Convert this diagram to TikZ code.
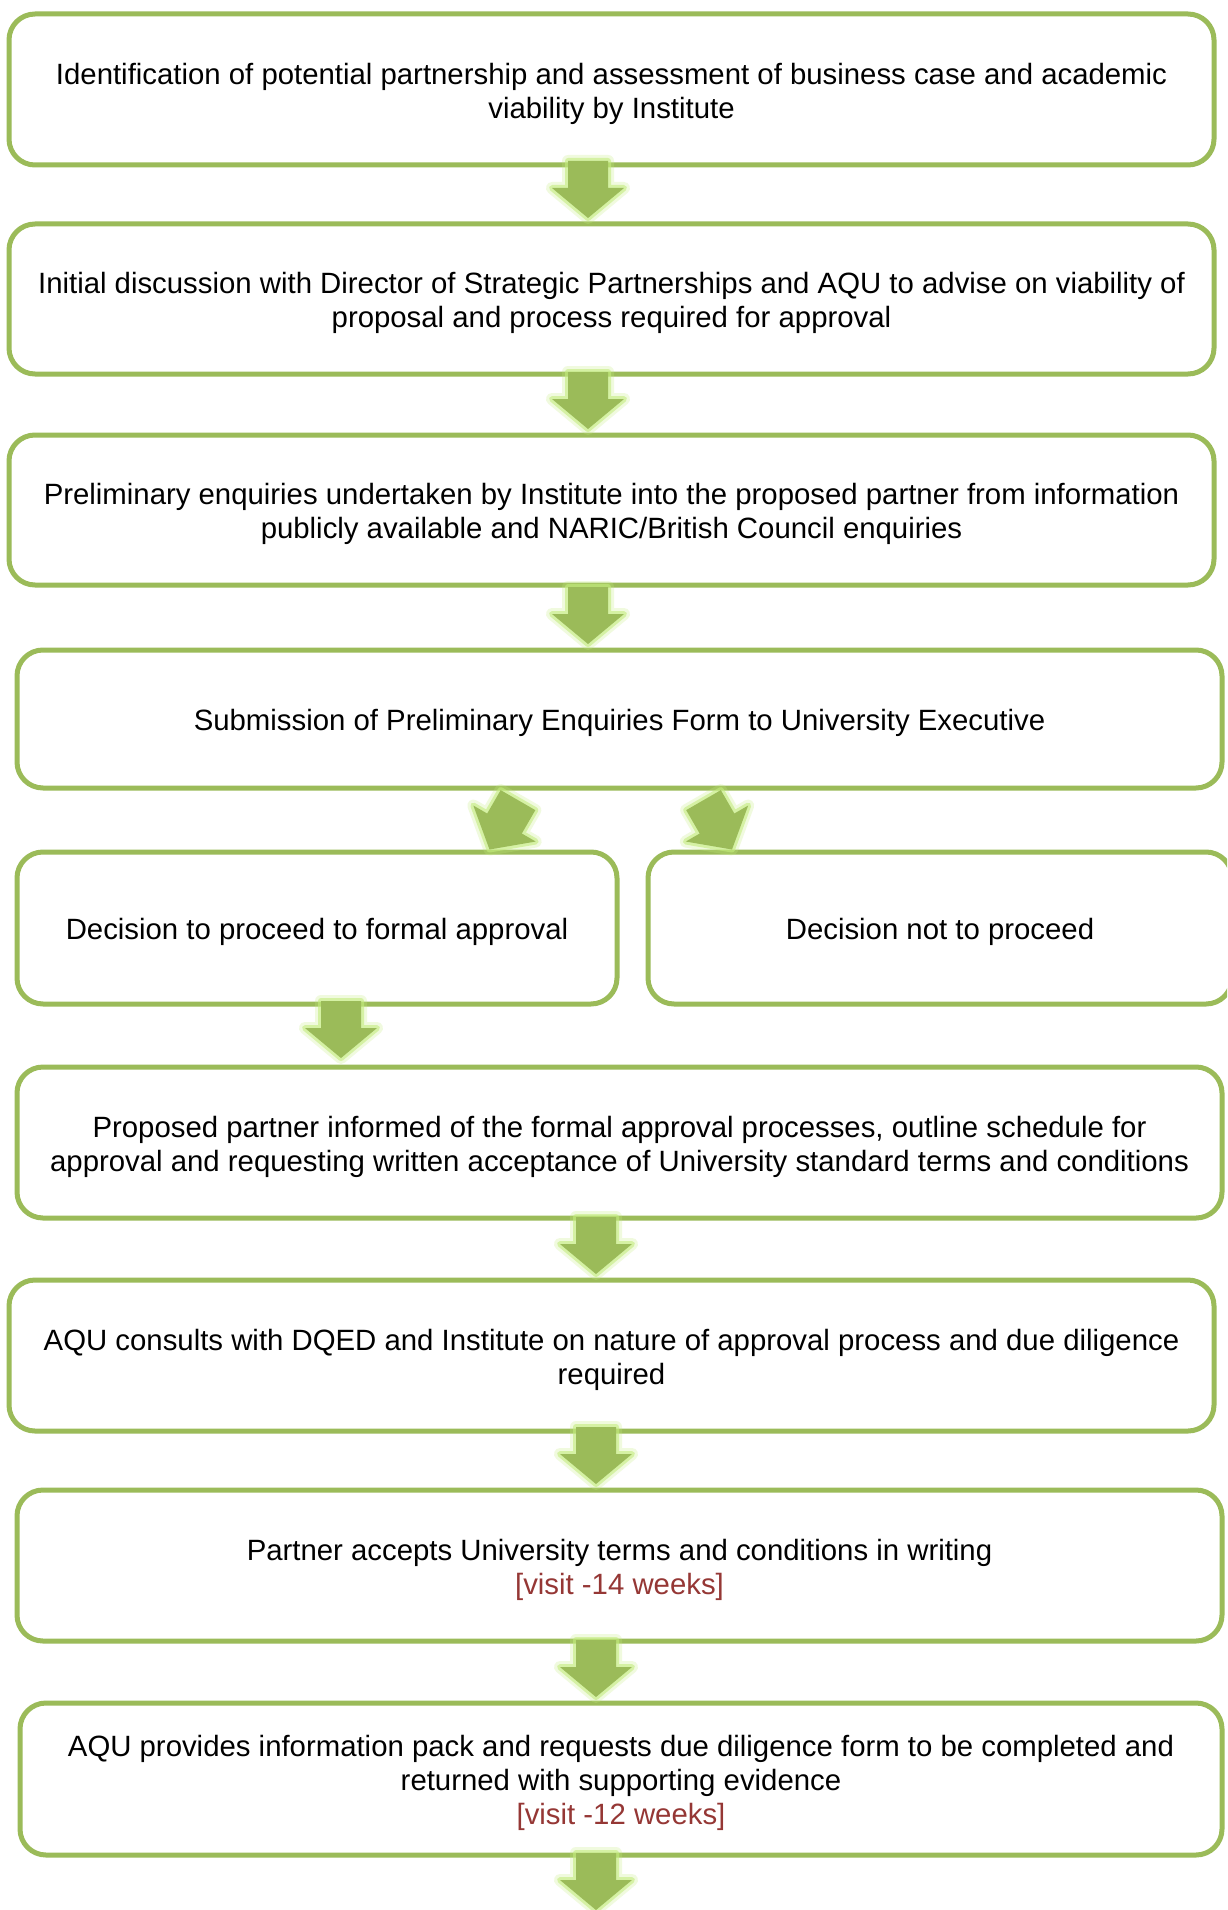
\documentclass[tikz,border=0pt]{standalone}
\usepackage{fontspec}
\setmainfont{Liberation Sans}
\usetikzlibrary{calc}
\definecolor{boxgreen}{HTML}{9BBB59}
\definecolor{glowgreen}{HTML}{C4EC7E}
\definecolor{visitred}{HTML}{953735}
\newcommand\tstrut{\rule{0pt}{29.5pt}}
\tikzset{
  flowbox/.style={draw=boxgreen, line width=5pt, rounded corners=26pt, fill=white,
    align=center, inner sep=0pt, text=black, font=\fontsize{29.35}{34}\selectfont},
  pics/downarrow/.style={code={
    \path[draw=glowgreen, line width=12pt, line join=round, draw opacity=0.25]
      (0,0) -- (36,-30) -- (20,-30) -- (20,-57) -- (-20,-57) -- (-20,-30) -- (-36,-30) -- cycle;
    \path[draw=glowgreen, line width=6pt, line join=round, draw opacity=0.6]
      (0,0) -- (36,-30) -- (20,-30) -- (20,-57) -- (-20,-57) -- (-20,-30) -- (-36,-30) -- cycle;
    \path[fill=boxgreen]
      (0,0) -- (36,-30) -- (20,-30) -- (20,-57) -- (-20,-57) -- (-20,-30) -- (-36,-30) -- cycle;
  }}
}
\begin{document}
\begin{tikzpicture}[x=1pt, y=-1pt]
\clip (0,0) rectangle (1227,1910);
\fill[white] (0,0) rectangle (1227,1910);

\node[flowbox, minimum width=1205pt, minimum height=151pt] (b1) at (611.5,89.5)
  {\tstrut Identification of potential partnership and assessment of business case and academic\\viability by Institute};
\node[flowbox, minimum width=1205pt, minimum height=150pt] (b2) at (611.5,299)
  {\tstrut Initial discussion with Director of Strategic Partnerships and AQU to advise on viability of\\proposal and process required for approval};
\node[flowbox, minimum width=1205pt, minimum height=150pt] (b3) at (611.5,510)
  {\tstrut Preliminary enquiries undertaken by Institute into the proposed partner from information\\publicly available and NARIC/British Council enquiries};
\node[flowbox, minimum width=1205pt, minimum height=138pt] (b4) at (619.5,719)
  {\tstrut Submission of Preliminary Enquiries Form to University Executive};
\node[flowbox, minimum width=600pt, minimum height=152pt] (b5l) at (317,928)
  {\tstrut Decision to proceed to formal approval};
\node[flowbox, minimum width=584pt, minimum height=152pt] (b5r) at (940,928)
  {\tstrut Decision not to proceed};
\node[flowbox, minimum width=1205pt, minimum height=151pt] (b6) at (619.5,1142.5)
  {\tstrut Proposed partner informed of the formal approval processes, outline schedule for\\approval and requesting written acceptance of University standard terms and conditions};
\node[flowbox, minimum width=1205pt, minimum height=151pt] (b7) at (611.5,1355.5)
  {\tstrut AQU consults with DQED and Institute on nature of approval process and due diligence\\required};
\node[flowbox, minimum width=1205pt, minimum height=151pt] (b8) at (619.5,1565.5)
  {\tstrut Partner accepts University terms and conditions in writing\\{\color{visitred}[visit -14 weeks]}};
\node[flowbox, minimum width=1202pt, minimum height=152pt] (b9) at (621,1779)
  {\tstrut AQU provides information pack and requests due diligence form to be completed and\\returned with supporting evidence\\{\color{visitred}[visit -12 weeks]}};

\pic at ($(b2.north)+(-23.5,-3.5)$) {downarrow};
\pic at ($(b3.north)+(-23.5,-3.5)$) {downarrow};
\pic at ($(b4.north)+(-31.5,-3.5)$) {downarrow};
\pic[rotate=-30] at ($(b5l.north east)+(-130,0)$) {downarrow};
\pic[rotate=30] at ($(b5r.north west)+(86.5,0)$) {downarrow};
\pic at ($(b5l.south)+(24,51.5)$) {downarrow};
\pic at ($(b7.north)+(-15.5,-3.5)$) {downarrow};
\pic at ($(b8.north)+(-23.5,-3.5)$) {downarrow};
\pic at ($(b9.north)+(-25,-3.5)$) {downarrow};
\pic at ($(b9.south)+(-25,52.5)$) {downarrow};
\end{tikzpicture}
\end{document}
